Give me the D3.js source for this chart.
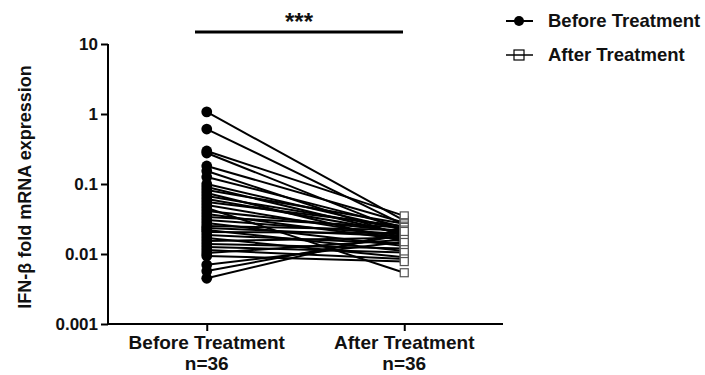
<!DOCTYPE html>
<html>
<head>
<meta charset="utf-8">
<script src="https://cdn.jsdelivr.net/npm/d3@7"></script>
<style>
  body { margin: 0; background: #fff; }
  text { font-family: "Liberation Sans", Arial, sans-serif; font-weight: bold; fill: #111; }
</style>
</head>
<body>
<svg class="chart" width="705" height="375"></svg>
<script>
var groups = ["Before Treatment", "After Treatment"];
var groupN = ["n=36", "n=36"];
var yTicks = [0.001, 0.01, 0.1, 1, 10];
var yTickLabels = ["0.001", "0.01", "0.1", "1", "10"];

var before = [1.07, 0.61, 0.296, 0.277, 0.181, 0.153, 0.126, 0.1, 0.0906, 0.082,
  0.0744, 0.0674, 0.061, 0.0553, 0.05, 0.0454, 0.0411, 0.0373, 0.0338, 0.0306,
  0.0277, 0.0251, 0.0235, 0.022, 0.0206, 0.0187, 0.0169, 0.0153, 0.0139, 0.0126,
  0.0114, 0.0103, 0.0094, 0.007, 0.0057, 0.0045];
var after = [0.030, 0.026, 0.035, 0.021, 0.028, 0.018, 0.024, 0.022, 0.019, 0.027,
  0.015, 0.023, 0.020, 0.025, 0.017, 0.0054, 0.021, 0.016, 0.024, 0.019,
  0.013, 0.022, 0.018, 0.011, 0.020, 0.014, 0.009, 0.017, 0.012, 0.0105,
  0.0085, 0.016, 0.0078, 0.015, 0.019, 0.021];

var svg = d3.select(".chart");

var x = d3.scalePoint().domain(groups).range([108, 503]).padding(0.5);
var y = d3.scaleLog().domain([0.001, 10]).range([324, 44]);

// pair lines
var pairs = before.map(function(b, i) { return [b, after[i]]; });
svg.append("g").selectAll("line")
    .data(pairs)
    .enter().append("line")
    .attr("x1", x(groups[0]))
    .attr("x2", x(groups[1]))
    .attr("y1", function(d) { return y(d[0]); })
    .attr("y2", function(d) { return y(d[1]); })
    .attr("stroke", "#000")
    .attr("stroke-width", 2);

// after squares
svg.append("g").selectAll("rect")
    .data(after)
    .enter().append("rect")
    .attr("x", x(groups[1]) - 4)
    .attr("y", function(d) { return y(d) - 4; })
    .attr("width", 8)
    .attr("height", 8)
    .attr("fill", "#fff")
    .attr("stroke", "#555")
    .attr("stroke-width", 1.2);

// before dots
svg.append("g").selectAll("circle")
    .data(before)
    .enter().append("circle")
    .attr("cx", x(groups[0]))
    .attr("cy", function(d) { return y(d); })
    .attr("r", 5.4)
    .attr("fill", "#000");

// y axis
var yAxis = d3.axisLeft(y).tickValues(yTicks)
    .tickFormat(function(d, i) { return yTickLabels[i]; })
    .tickSize(7).tickPadding(3);
var yg = svg.append("g").attr("transform", "translate(108,0)").call(yAxis);
yg.select(".domain").attr("stroke-width", 2).attr("d", "M0,44V324");
yg.selectAll(".tick line").attr("stroke-width", 2);
yg.selectAll(".tick text").style("font-size", "17px").attr("dy", "0.35em");

// x axis
var xAxis = d3.axisBottom(x).tickSize(7).tickFormat("");
var xg = svg.append("g").attr("transform", "translate(0,324)").call(xAxis);
xg.select(".domain").attr("stroke-width", 2).attr("d", "M108,0H503");
xg.selectAll(".tick line").attr("stroke-width", 2);

groups.forEach(function(g, i) {
  svg.append("text").attr("x", x(g)).attr("y", 349)
    .attr("text-anchor", "middle").style("font-size", "19px").text(g);
  svg.append("text").attr("x", x(g)).attr("y", 370)
    .attr("text-anchor", "middle").style("font-size", "19px").text(groupN[i]);
});

// y label
svg.append("text")
    .attr("transform", "translate(31,187) rotate(-90)")
    .attr("text-anchor", "middle")
    .style("font-size", "18px")
    .text("IFN-\u03b2 fold mRNA expression");

// significance bar
svg.append("line")
    .attr("x1", 195).attr("x2", 403)
    .attr("y1", 32).attr("y2", 32)
    .attr("stroke", "#000").attr("stroke-width", 3);
svg.append("text")
    .attr("x", 299).attr("y", 30)
    .attr("text-anchor", "middle")
    .style("font-size", "24px")
    .text("***");

// legend
var legend = svg.append("g");
legend.append("line").attr("x1", 506).attr("x2", 533).attr("y1", 21).attr("y2", 21)
    .attr("stroke", "#000").attr("stroke-width", 2);
legend.append("circle").attr("cx", 519).attr("cy", 21).attr("r", 5).attr("fill", "#000");
legend.append("text").attr("x", 548).attr("y", 27).style("font-size", "18.5px").text("Before Treatment");

legend.append("line").attr("x1", 506).attr("x2", 533).attr("y1", 55).attr("y2", 55)
    .attr("stroke", "#000").attr("stroke-width", 1.5);
legend.append("rect").attr("x", 514).attr("y", 50).attr("width", 10).attr("height", 10)
    .attr("fill", "none").attr("stroke", "#000").attr("stroke-width", 1.2);
legend.append("text").attr("x", 548).attr("y", 61).style("font-size", "18.5px").text("After Treatment");
</script>
</body>
</html>
